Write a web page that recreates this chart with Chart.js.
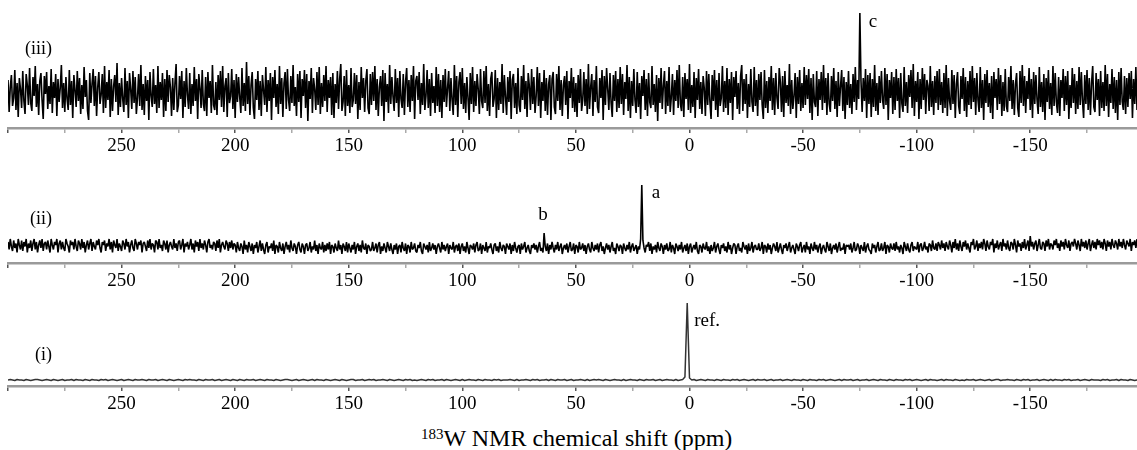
<!DOCTYPE html>
<html>
<head>
<meta charset="utf-8">
<script src="https://cdn.jsdelivr.net/npm/chart.js@4.4.1/dist/chart.umd.min.js"></script>
<style>
  html, body { margin: 0; padding: 0; background: #fff; }
  body { width: 1137px; height: 450px; position: relative; overflow: hidden; font-family: "Liberation Serif", "Times New Roman", Times, serif; color: #000; }
  .panel { position: absolute; left: 0; width: 1137px; }
  .tag { position: absolute; font-size: 18px; line-height: 20px; }
  .xtitle { position: absolute; left: 421px; top: 425px; font-size: 24px; line-height: 26px; white-space: nowrap; }
  .xtitle sup { font-size: 15px; vertical-align: 7px; line-height: 0; }
</style>
</head>
<body>
<div class="panel" style="top:0;height:160px"><canvas id="specIII"></canvas></div>
<div class="panel" style="top:160px;height:140px"><canvas id="specII"></canvas></div>
<div class="panel" style="top:300px;height:115px"><canvas id="specI"></canvas></div>
<div class="tag" style="left:25px;top:38px">(iii)</div>
<div class="tag" style="left:30px;top:208px">(ii)</div>
<div class="tag" style="left:35px;top:344px">(i)</div>
<div class="xtitle"><sup>183</sup>W NMR chemical shift (ppm)</div>
<script>
// chemical shift grid: every spectrum starts at 300 ppm and runs upfield
const ppmStart = 300;
const stepIII = 0.5;
const stepII = 0.5;
const stepI = 1;
const ppmMin = -197;
const ppmMax = 300;

// (iii) intensities, one value per 0.5 ppm (peak c at -75 ppm)
const specIII = [
  12,-20,5,17,-14,-6,22,-18,9,-25,14,3,-16,21,-9,-22,18,7,-13,24,
  -11,-19,15,-4,26,-15,8,-23,11,19,-8,-27,16,-2,20,-17,6,-12,23,-21,
  10,-6,18,-24,13,-10,4,27,-16,9,-20,15,-7,-18,22,-13,11,-26,17,2,
  -15,21,-9,14,-22,7,-17,25,-5,12,-19,-28,19,-11,8,23,-14,16,-24,5,
  20,-12,-3,18,-21,26,-16,10,-8,22,-25,13,-19,6,17,-10,29,-23,9,-15,
  14,-7,-20,24,-13,11,-26,19,3,-17,21,-11,15,-22,-6,18,-14,27,-18,8,
  -23,16,-9,12,-28,20,-4,-15,23,-12,7,-21,26,-16,10,-8,19,-25,13,-19,
  22,-10,17,5,-24,14,-18,9,28,-20,-13,16,-7,21,-26,11,-15,24,-3,-17,
  19,-22,8,-14,25,-9,13,-27,18,4,-16,22,-12,-19,15,-24,20,-6,11,-21,
  27,-13,-18,10,-23,17,-8,21,-15,26,-20,6,14,-25,19,-11,-4,23,-17,12,
  -26,18,-10,15,-5,-21,24,-14,9,-19,30,-12,16,-23,7,20,-16,-27,13,-8,
  21,-18,11,-24,17,2,-13,25,-20,12,-9,19,-28,15,-6,22,-15,8,-22,26,
  -12,14,-25,9,20,-17,23,-8,-19,16,-11,27,-14,5,-24,18,-10,21,-26,13,
  -4,22,-16,18,-29,11,-7,24,-21,14,3,-18,20,-13,25,-22,9,-15,17,-9,
  26,-20,12,-6,15,-23,19,-26,8,-11,21,-17,13,28,-19,-10,16,-24,22,-14,
  7,-21,24,-15,-8,19,-12,17,-27,10,-18,25,-6,14,-20,11,23,-16,-22,18,
  -13,20,-9,26,-18,13,-24,5,16,-14,22,-29,19,-10,8,-21,27,-12,15,-5,
  -19,23,-11,14,-25,21,-7,-16,18,-23,10,24,-15,12,-20,17,-9,26,-27,11,
  16,-8,20,-22,9,-13,28,-18,-4,22,-16,13,-24,19,-11,6,-21,25,-14,18,
  -20,12,-26,17,-10,23,-15,4,21,-19,14,-8,-23,27,-13,16,-25,10,20,-12,
  24,-17,9,-21,15,-6,-28,19,-12,25,-20,11,-14,18,3,-22,23,-9,-16,21,
  -11,26,-19,8,-24,13,20,-15,-7,22,-26,14,-18,10,-12,28,-21,17,-5,-23,
  15,-10,21,-27,12,18,-16,9,-22,24,-13,-20,16,-8,27,-17,11,-25,19,6,
  -18,23,-12,15,-21,-4,25,-14,19,-26,10,-9,22,-19,14,-23,8,17,-28,13,
  20,-15,-22,18,-9,26,-18,12,-24,7,16,-13,21,-27,11,-6,24,-16,15,-20,
  9,-25,17,-11,23,-19,-8,20,-14,13,-22,28,-17,5,18,-24,12,-10,26,-15,
  -21,14,-6,22,-28,16,-13,24,3,-18,19,-11,-25,17,-9,21,-20,13,-16,25,
  -12,18,-23,10,-7,27,-19,15,-26,11,-14,23,-8,-21,20,-15,9,-27,16,-4,
  22,-18,13,-24,19,-10,-16,26,-13,8,-20,17,-29,14,-11,24,-17,6,21,-22,
  11,-14,25,-20,-5,18,-23,12,-9,22,-16,27,-12,-19,15,-25,19,-7,13,-18,
  28,-21,7,-15,20,-26,14,-8,23,-17,10,-22,16,4,-24,21,-13,18,-10,-27,
  17,-9,22,-18,12,-25,19,-14,-6,26,-20,11,-16,24,-23,13,-11,20,-28,15,
  -5,21,-17,9,-22,16,27,-19,13,-12,18,-26,8,-15,23,-10,-20,25,-14,12,
  -24,18,-8,20,-13,-27,22,-16,11,-21,15,-9,26,-18,14,-23,19,-6,-17,24,
  10,-20,16,-25,21,-11,7,-14,28,-22,12,-17,-4,19,-26,15,-12,22,-19,9,
  -16,25,-13,17,-7,23,-21,14,-28,18,-10,-15,21,-24,13,-8,20,-18,27,-11,
  14,-23,19,-12,-20,16,-9,24,-17,11,-25,20,-14,6,22,-19,15,-27,10,-13,
  21,-16,8,-22,18,-10,25,-18,12,-7,79,11,-20,14,-9,23,-26,17,-12,19,
  -25,13,-15,27,-19,9,-23,16,-11,21,-8,-17,24,-13,18,-28,12,-6,20,-22,
  15,-18,23,-9,14,-26,19,-12,-20,25,-14,10,-21,17,-5,22,-16,28,-24,11,
  -10,20,-27,13,-17,24,-8,18,-22,12,6,-19,26,-15,11,-23,16,-11,21,-18,
  23,-13,10,-21,19,-16,27,-24,14,-9,-18,22,-12,17,-26,8,20,-14,-22,16,
  -7,24,-19,15,-25,11,-13,21,-17,26,-10,14,-23,19,-8,-20,25,-16,12,-28,
  18,-11,22,-15,9,-21,16,-27,20,-6,13,-18,24,-12,17,-24,10,-19,23,-14,
  -20,15,-9,26,-17,12,-23,8,19,-16,-25,21,-11,27,-14,16,-21,11,-7,24,
  -18,13,-26,20,-12,17,-8,-22,25,-15,10,-20,18,-28,14,-10,22,-17,9,-23,
  26,-14,19,-10,-21,15,-24,12,-6,23,-19,16,-13,21,-27,7,-16,24,-11,18,
  -22,11,-17,25,-13,20,-9,-26,17,-12,22,-18,14,-23,9,26,-15,-20,19,-8,
  13,-24,21,-16,10,-19,27,-14,18,-25,8,-11,23,-17,15,-21,12,-28,20,-13,
  24,-10,-18,16,-22,14,-15,19,-7,21,-26,13,-12,25,-18,11,-23,17,-9,22
];

// (ii) intensities, one value per 0.5 ppm (peak b at 64 ppm, peak a at 21 ppm)
const specII = [
  4,-1,6,1,-2,5,0,3,-3,6,2,-1,5,-2,4,1,6,-3,3,0,
  5,-2,3,6,-1,4,-3,2,5,0,6,-2,3,4,-1,5,1,-3,6,2,
  -1,4,2,6,-3,3,5,-1,4,0,-2,6,3,1,-3,5,2,4,-1,6,
  1,-2,5,3,-1,6,0,4,-3,2,5,-1,3,6,-2,4,1,-1,5,2,
  6,0,-3,4,2,5,-2,3,1,6,-1,4,-3,5,2,0,6,-2,3,1,
  -2,5,3,-1,6,1,4,-3,2,5,0,-2,6,3,-1,4,2,5,-3,3,
  4,1,-2,5,0,6,-1,3,2,-3,5,4,-1,6,0,2,-2,5,3,-1,
  5,-3,2,4,1,-1,6,0,3,-2,4,5,-1,2,6,-3,3,1,4,-1,
  2,6,-1,3,-3,5,1,4,-2,6,0,3,-1,5,2,-3,4,6,0,2,
  -1,4,3,-2,5,0,6,-3,2,4,1,-1,5,3,-2,4,0,5,-1,3,
  2,-3,4,0,-2,3,1,-4,5,-1,2,-3,4,1,-2,3,-4,2,0,4,
  -3,1,5,-2,3,-1,-4,2,4,-3,1,0,3,-2,5,-4,2,1,-3,4,
  0,-2,3,-4,1,4,-1,2,-3,5,0,-2,3,1,-4,2,4,-1,-3,3,
  1,-4,2,3,-2,0,4,-3,1,-1,5,-2,2,-4,3,0,-1,4,-3,2,
  -2,3,-1,4,-4,2,1,-3,3,0,-2,5,-1,2,-4,3,1,-2,4,-3,
  3,0,-3,2,-1,4,-4,1,3,-2,2,-3,5,0,-1,3,-4,2,1,-2,
  -1,4,-2,0,3,-3,2,4,-4,1,-2,3,0,-3,4,1,-2,3,-1,-4,
  2,-1,3,-4,1,2,-3,4,0,-2,3,-4,2,1,-3,4,-1,0,3,-2,
  -3,2,0,4,-2,-4,3,1,-1,2,-3,4,-2,0,3,-1,2,-4,1,3,
  0,-3,4,-1,2,-2,1,3,-4,2,0,-1,4,-3,1,2,-2,3,-4,1,
  3,-2,1,-3,4,0,-4,2,1,-1,3,-3,2,4,-2,-1,3,-4,2,0,
  -2,4,-3,1,0,3,-1,-4,2,3,-2,1,-3,4,0,-2,2,1,-4,3,
  1,-1,3,-4,2,-2,4,0,-3,1,2,-4,3,-1,1,4,-3,0,2,-2,
  -4,2,0,3,-1,2,-3,1,4,-2,0,-3,10,1,-2,3,-4,2,-1,4,
  0,-3,2,-1,4,-2,1,3,-4,0,2,-1,3,-3,1,4,-2,-1,3,-4,
  2,1,-3,4,-1,0,3,-2,2,-4,1,3,-1,-3,4,0,-2,2,-1,3,
  -3,2,4,-2,1,-4,0,3,-1,2,-3,1,4,-2,0,-4,3,1,-2,2,
  1,-4,3,0,-2,2,-1,4,-3,1,3,-2,0,2,-4,1,-1,6,42,5,
  0,-3,2,1,4,-2,3,-4,1,-1,2,-3,4,0,-2,3,1,-4,2,-1,
  3,-2,-1,4,-3,2,0,-4,3,1,-2,2,-1,4,-3,0,2,-2,3,-4,
  1,3,-3,0,2,-1,4,-2,-4,2,1,-3,3,0,-1,4,-2,1,-4,2,
  -2,0,4,-3,1,3,-1,-4,2,0,3,-2,1,-3,4,-1,2,-4,0,3,
  2,-4,1,3,-2,0,-3,4,1,-1,2,-4,3,-2,0,4,-3,1,2,-1,
  -1,3,-2,0,4,-4,2,1,-3,3,-1,2,-4,0,3,1,-2,4,-3,0,
  3,-1,-4,2,0,3,-2,1,4,-3,0,2,-1,-4,3,1,-2,2,4,-3,
  0,2,-3,4,-1,1,-4,3,0,-2,4,-1,2,-3,1,3,-4,0,2,-1,
  -3,4,1,-2,3,-4,0,2,-1,3,-3,1,4,-2,0,-1,3,-4,2,1,
  2,-1,3,-3,0,4,-2,-1,3,1,-4,2,0,-2,4,-3,1,3,-1,-2,
  -4,3,0,2,-3,1,4,-2,-1,3,-2,0,4,-4,2,1,-3,3,0,-1,
  3,-2,4,-1,1,-3,2,0,-4,4,1,-2,3,-1,-3,2,4,-2,1,0,
  -1,4,-3,2,3,-2,0,4,-1,1,-3,3,2,-2,5,0,-1,3,-2,4,
  2,-1,5,0,3,-2,4,1,-1,5,2,-3,4,0,6,-1,3,-2,5,1,
  -2,4,1,5,-1,3,0,-3,4,2,6,-1,1,5,-2,3,0,4,-1,6,
  3,-2,5,1,-1,4,2,6,-3,3,0,5,-1,2,4,-2,6,1,3,-1,
  5,0,-2,4,3,-1,6,2,-3,5,1,3,-2,4,0,6,-1,2,5,-2,
  8,1,4,-1,3,5,-2,2,6,0,-1,4,3,-2,5,1,6,-1,3,2,
  -1,5,2,6,0,3,-2,5,1,4,-1,6,2,0,5,-2,3,4,1,6,
  3,-1,5,2,-2,6,1,4,0,5,-1,3,6,-2,2,5,0,4,-1,6,
  2,5,0,4,-1,6,3,-2,5,1,4,-1,6,2,0,5,3,-1,6,1,
  4,0,6,2,-1,5,3,1,6,-2,4,2,5,0,6,1,3,-1,5,2
];

// (i) intensities, one value per ppm (reference peak near 0 ppm)
const specI = [
  0,1,0,-1,1,0,0,-1,1,0,-1,0,1,1,0,-1,0,1,0,-1,
  1,0,-1,0,1,-1,0,0,1,-1,1,0,0,-1,1,0,-1,1,0,0,
  -1,1,0,1,-1,0,1,0,-1,0,1,-1,0,1,0,-1,1,0,0,1,
  0,-1,1,0,0,1,-1,0,1,0,-1,1,0,-1,0,1,0,-1,1,0,
  1,0,0,-1,1,0,-1,1,0,0,1,-1,0,1,-1,0,1,0,-1,1,
  0,-1,1,0,-1,1,0,0,1,-1,0,1,0,-1,1,0,0,-1,1,0,
  -1,0,1,1,0,-1,0,1,-1,0,1,0,-1,0,1,-1,1,0,0,-1,
  1,0,-1,0,1,0,-1,1,0,-1,0,1,1,-1,0,0,1,-1,0,1,
  0,1,-1,0,0,1,0,-1,1,0,-1,0,1,0,-1,1,0,1,-1,0,
  -1,0,1,0,-1,1,0,1,-1,0,0,1,-1,1,0,-1,0,1,0,-1,
  1,-1,0,1,0,0,-1,1,0,-1,1,0,0,-1,1,0,1,-1,0,0,
  0,1,0,-1,1,-1,0,0,1,0,-1,1,0,1,-1,0,0,1,-1,1,
  0,-1,1,0,0,1,-1,0,1,-1,0,0,1,0,-1,1,-1,0,1,0,
  1,0,-1,1,0,-1,0,1,0,0,-1,1,-1,0,1,0,0,-1,1,0,
  -1,1,0,0,1,-1,0,1,-1,0,1,0,0,-1,1,-1,0,1,6,154,
  4,0,1,-1,0,1,0,-1,1,0,0,-1,1,0,-1,1,0,0,-1,1,
  0,1,-1,0,1,0,-1,0,1,-1,1,0,0,1,-1,0,1,-1,0,0,
  1,-1,0,1,0,-1,1,0,0,-1,1,0,-1,1,0,0,-1,1,0,1,
  -1,0,1,0,-1,0,1,-1,1,0,0,1,-1,0,1,-1,0,0,1,-1,
  0,1,0,-1,1,0,0,-1,1,0,-1,1,0,0,-1,1,0,1,-1,0,
  1,0,-1,0,1,-1,1,0,0,-1,0,1,-1,1,0,0,-1,1,0,-1,
  0,-1,1,0,0,1,-1,0,1,0,-1,0,1,-1,0,1,1,-1,0,0,
  1,0,0,-1,1,0,-1,1,0,1,-1,0,0,1,-1,0,1,0,-1,1,
  -1,1,0,0,-1,1,0,1,-1,0,0,1,-1,0,1,0,-1,1,0,0,
  0,-1,1,0,1,-1,0,0,1,-1,1,0,0,-1,1,0,-1,0,1,0
];

// peak annotations: shift (ppm) and intensity of the peak top
const peaksIII = [{ text: "c", ppm: -75, top: 79 }];
const peaksII = [{ text: "b", ppm: 64, top: 10 }, { text: "a", ppm: 21, top: 42 }];
const peaksI = [{ text: "ref.", ppm: 1, top: 154 }];

const serif = '"Liberation Serif", "Times New Roman", Times, serif';

const peakLabels = {
  id: "peakLabels",
  afterDatasetsDraw(chart, args, opts) {
    const { ctx } = chart;
    const x = chart.scales.x, y = chart.scales.y;
    ctx.save();
    ctx.font = "19px " + serif;
    ctx.fillStyle = "#000";
    ctx.textBaseline = "middle";
    (opts.items || []).forEach((p, i) => {
      const off = opts.offsets[i];
      ctx.textAlign = off.align;
      ctx.fillText(p.text, x.getPixelForValue(p.ppm) + off.dx, y.getPixelForValue(p.top) + off.dy);
    });
    ctx.restore();
  }
};

function toPoints(arr, step) {
  return arr.map((v, i) => ({ x: ppmStart - i * step, y: v }));
}

function makeSpectrum(id, values, step, yMin, yMax, axisH, padTop, color, width, peaks, offsets) {
  return new Chart(document.getElementById(id), {
    type: "line",
    data: {
      datasets: [{
        data: toPoints(values, step),
        borderColor: color,
        borderWidth: width,
        borderJoinStyle: "bevel",
        pointRadius: 0,
        tension: 0,
        fill: false
      }]
    },
    options: {
      responsive: true,
      maintainAspectRatio: false,
      animation: false,
      events: [],
      layout: { padding: { left: 8, right: 0, top: padTop, bottom: 0 } },
      plugins: {
        legend: { display: false },
        tooltip: { enabled: false },
        peakLabels: { items: peaks, offsets: offsets }
      },
      scales: {
        x: {
          type: "linear",
          min: ppmMin,
          max: ppmMax,
          reverse: true,
          afterFit(scale) { scale.height = axisH; },
          border: { display: true, color: "#9a9a9a", width: 2.5 },
          grid: {
            drawOnChartArea: false,
            drawTicks: true,
            tickLength: 5,
            color: "#777",
            lineWidth: 1.5,
            tickColor: c => (c.tick && c.tick.value % 50 === 0) ? "#555" : "#aaa"
          },
          ticks: {
            stepSize: 25,
            includeBounds: false,
            autoSkip: false,
            maxRotation: 0,
            padding: 2,
            color: "#000",
            font: { family: serif, size: 19 },
            callback: v => (v % 50 === 0 && v !== 300) ? String(v) : ""
          }
        },
        y: { display: false, min: yMin, max: yMax }
      }
    },
    plugins: [peakLabels]
  });
}

makeSpectrum("specIII", specIII, stepIII, -36, 87, 32, 5, "#000", 1.6, peaksIII,
  [{ dx: 9, dy: 9, align: "left" }]);
makeSpectrum("specII", specII, stepII, -10, 55.3, 37, 5, "#000", 1.6, peaksII,
  [{ dx: -1, dy: -18, align: "center" }, { dx: 10, dy: 8, align: "left" }]);
makeSpectrum("specI", specI, stepI, -12, 156, 29, 2, "#333", 1.5, peaksI,
  [{ dx: 7, dy: 18, align: "left" }]);
</script>
</body>
</html>
